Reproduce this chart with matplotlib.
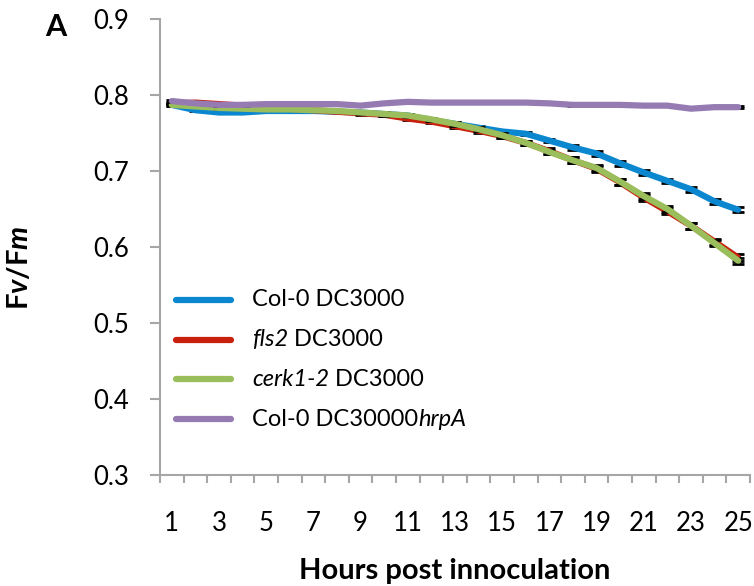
import numpy as np
import matplotlib.pyplot as plt
from matplotlib.lines import Line2D
from matplotlib.offsetbox import (AnchoredOffsetbox, DrawingArea, HPacker,
                                  TextArea)

plt.rcParams['font.family'] = ['Lato', 'DejaVu Sans']
plt.rcParams['mathtext.fontset'] = 'custom'
plt.rcParams['mathtext.rm'] = 'Lato:bold'
plt.rcParams['mathtext.bf'] = 'Lato:italic:bold'

hours = np.arange(1, 26)

col0 = [0.787, 0.780, 0.777, 0.777, 0.779, 0.779, 0.779, 0.778, 0.777, 0.775,
        0.773, 0.767, 0.762, 0.757, 0.752, 0.749, 0.740, 0.731, 0.723, 0.710,
        0.698, 0.687, 0.676, 0.660, 0.649]
fls2 = [0.789, 0.790, 0.788, 0.786, 0.784, 0.782, 0.780, 0.778, 0.776, 0.774,
        0.769, 0.765, 0.759, 0.753, 0.746, 0.737, 0.726, 0.714, 0.703, 0.685,
        0.665, 0.647, 0.628, 0.607, 0.586]
cerk = [0.787, 0.785, 0.783, 0.782, 0.781, 0.781, 0.780, 0.779, 0.777, 0.775,
        0.773, 0.768, 0.762, 0.755, 0.747, 0.737, 0.725, 0.714, 0.704, 0.686,
        0.667, 0.650, 0.628, 0.605, 0.582]
hrpa = [0.792, 0.789, 0.787, 0.787, 0.788, 0.788, 0.788, 0.788, 0.786, 0.789,
        0.791, 0.790, 0.790, 0.790, 0.790, 0.790, 0.789, 0.787, 0.787, 0.787,
        0.786, 0.786, 0.782, 0.784, 0.784]

col0_err = [0.001, 0.001, 0.001, 0.001, 0.001, 0.001, 0.001, 0.001, 0.001, 0.002,
            0.002, 0.002, 0.002, 0.002, 0.002, 0.002, 0.002, 0.003, 0.003, 0.003,
            0.003, 0.003, 0.003, 0.003, 0.003]
fls2_err = [0.001, 0.001, 0.001, 0.001, 0.001, 0.001, 0.001, 0.001, 0.002, 0.002,
            0.002, 0.002, 0.003, 0.003, 0.003, 0.003, 0.004, 0.004, 0.004, 0.004,
            0.004, 0.004, 0.004, 0.004, 0.005]
cerk_err = [0.001, 0.001, 0.001, 0.001, 0.001, 0.001, 0.001, 0.001, 0.002, 0.002,
            0.002, 0.002, 0.003, 0.003, 0.003, 0.003, 0.003, 0.004, 0.004, 0.004,
            0.004, 0.004, 0.004, 0.004, 0.004]
hrpa_err = [0.001] * 25

# legend labels as (text, italic) pieces
labels = [[('Col-0 DC3000', False)],
          [('fls2', True), (' DC3000', False)],
          [('cerk1-2', True), (' DC3000', False)],
          [('Col-0 DC30000', False), ('hrpA', True)]]
colors = ['#0B87CF', '#C8200C', '#9BBE5C', '#957BB2']

fig = plt.figure(figsize=(7.54, 5.86), dpi=100)
ax = fig.add_axes([160/754, 1-475/586, 590/754, 456/586])

series = [(col0, col0_err), (fls2, fls2_err), (cerk, cerk_err), (hrpa, hrpa_err)]
for i, (vals, err) in enumerate(series):
    ax.errorbar(hours, vals, yerr=err, fmt='none', ecolor='black', elinewidth=1.5,
                capsize=4.5, capthick=2, zorder=2 + i*2)
    ax.plot(hours, vals, color=colors[i], lw=4.5, solid_joinstyle='round',
            solid_capstyle='round', zorder=3 + i*2)

ax.set_xlim(0.5, 25.5)
ax.set_ylim(0.3, 0.9)
ax.set_yticks(np.arange(0.3, 0.91, 0.1))
ax.set_yticklabels(['0.3', '0.4', '0.5', '0.6', '0.7', '0.8', '0.9'])
ax.set_xticks(hours[::2])
ax.set_xticks(np.arange(0.5, 26, 1), minor=True)
ax.tick_params(axis='x', which='major', length=0, pad=26, labelsize=18.5)
ax.tick_params(axis='x', which='minor', length=6, width=1.5, color='#A6A6A6')
ax.tick_params(axis='y', length=7, width=1.5, color='#A6A6A6', pad=15, labelsize=18.5)

for s in ['top', 'right']:
    ax.spines[s].set_visible(False)
for s in ['left', 'bottom']:
    ax.spines[s].set_color('#A6A6A6')
    ax.spines[s].set_linewidth(1.5)

ax.set_xlabel('Hours post innoculation', fontsize=21, fontweight='bold', labelpad=16)
ax.set_ylabel(r'F$\mathbf{v}$/F$\mathbf{m}$', fontsize=21, fontweight='bold')
ax.yaxis.set_label_coords(-0.215, 0.454)
fig.text(45/754, 1-36/586, 'A', fontsize=22, fontweight='bold')

# legend rows built from offset boxes so part of each label can be italic
for i, pieces in enumerate(labels):
    da = DrawingArea(44, 10, 0, 0)
    da.add_artist(Line2D([2, 42], [5, 5], color=colors[i], lw=4.5,
                         solid_capstyle='round'))
    texts = [TextArea(t, textprops=dict(fontsize=17,
                                        style='italic' if it else 'normal'))
             for t, it in pieces]
    row = HPacker(children=[da, HPacker(children=texts, align='baseline', pad=0, sep=0)],
                  align='center', pad=0, sep=13)
    box = AnchoredOffsetbox(loc='center left', child=row, frameon=False, pad=0,
                            borderpad=0, bbox_to_anchor=(0.022, 0.384 - i*0.0871),
                            bbox_transform=ax.transAxes)
    ax.add_artist(box)

fig.savefig('out.png', dpi=100)
